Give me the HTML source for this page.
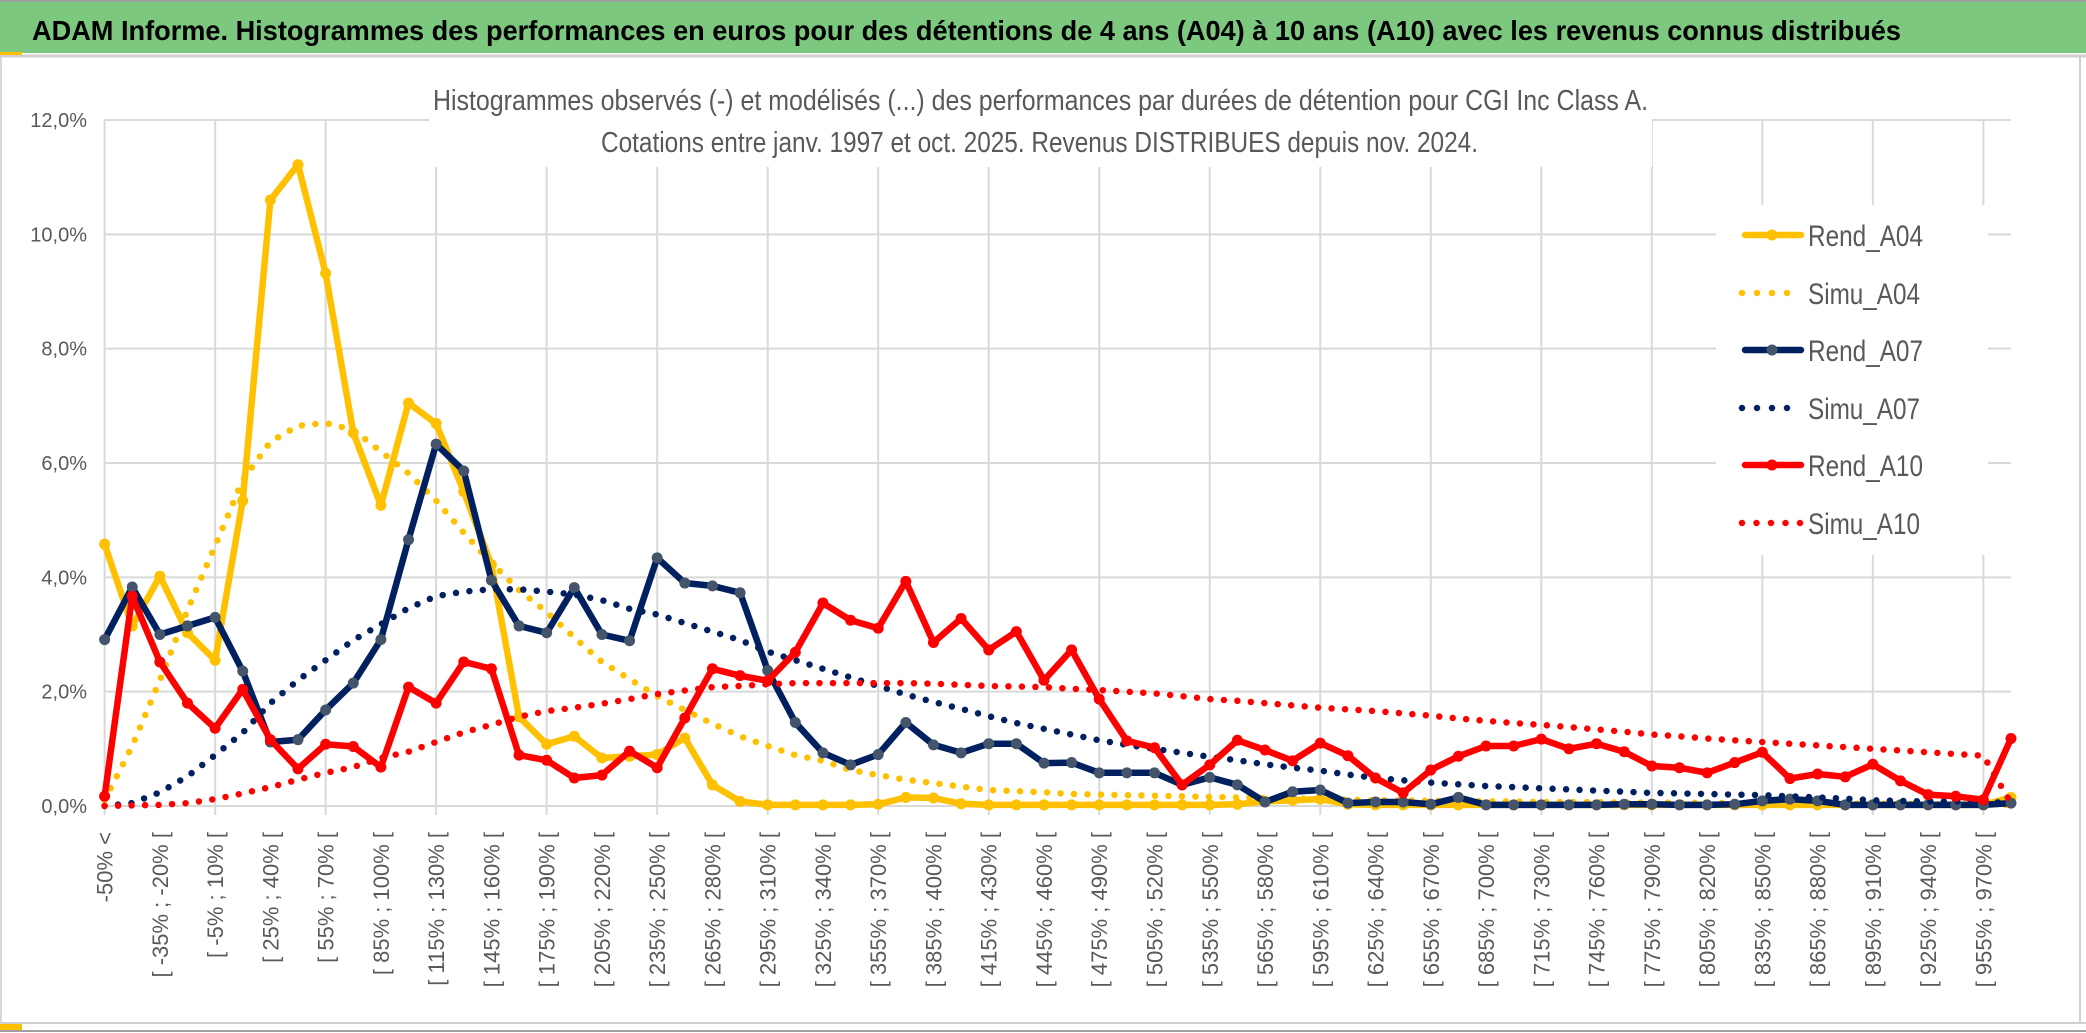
<!DOCTYPE html>
<html><head><meta charset="utf-8">
<style>
html,body{margin:0;padding:0;background:#fff;}
body{width:2086px;height:1033px;overflow:hidden;}
svg{display:block;font-family:"Liberation Sans",sans-serif;}
</style></head>
<body>
<svg id="chart" width="2086" height="1033" viewBox="0 0 2086 1033" xmlns="http://www.w3.org/2000/svg">
  <rect x="0" y="0" width="2086" height="1033" fill="#fff"/>
  <rect x="0" y="2" width="2086" height="51" fill="#7dc87f"/>
  <line x1="0" y1="1" x2="2086" y2="1" stroke="#a0a0a0" stroke-width="2"/>
  <line x1="0" y1="56" x2="2086" y2="56" stroke="#d0d0d0" stroke-width="3"/>
  <rect x="0" y="52" width="22" height="3" fill="#ffc000"/>
  <text x="32" y="40" font-size="28" font-weight="bold" fill="#000" textLength="1869" lengthAdjust="spacingAndGlyphs">ADAM Informe. Histogrammes des performances en euros pour des détentions de 4 ans (A04) à 10 ans (A10) avec les revenus connus distribués</text>
  <line x1="1" y1="57" x2="1" y2="1023" stroke="#d9d9d9" stroke-width="2"/>
  <line x1="2080" y1="57" x2="2080" y2="1023" stroke="#d0d0d0" stroke-width="2"/>
  <line x1="0" y1="1023" x2="2086" y2="1023" stroke="#d0d0d0" stroke-width="2"/>
  <line x1="0" y1="1031" x2="2086" y2="1031" stroke="#a0a0a0" stroke-width="2"/>
  <rect x="0" y="1024" width="22" height="6" fill="#ffc000"/>
  <g id="grid"></g>
  <g id="series"></g>
  <rect x="429" y="70" width="1223" height="97" fill="#fff"/>
  <text x="433" y="110" font-size="29" fill="#595959" textLength="1215" lengthAdjust="spacingAndGlyphs">Histogrammes observés (-) et modélisés (...) des performances par durées de détention pour CGI Inc Class A.</text>
  <text x="601" y="152" font-size="29" fill="#595959" textLength="877" lengthAdjust="spacingAndGlyphs">Cotations entre janv. 1997 et oct. 2025. Revenus DISTRIBUES depuis nov. 2024.</text>
  <g id="legend"></g>
</svg>
<script>
const categories = [];
categories.push("-50% <");
for (let k = 0; k < 69; k++) { const lo = -50 + 15 * k; categories.push("[ " + lo + "% ; " + (lo + 15) + "% ["); }
const yTicks = [0, 2, 4, 6, 8, 10, 12];
const yTickLabels = ["0,0%", "2,0%", "4,0%", "6,0%", "8,0%", "10,0%", "12,0%"];
const seriesNames = ["Rend_A04", "Simu_A04", "Rend_A07", "Simu_A07", "Rend_A10", "Simu_A10"];
const rendA04 = [4.58,3.15,4.02,3.03,2.55,5.34,10.6,11.22,9.32,6.53,5.26,7.05,6.69,5.5,4.22,1.56,1.08,1.22,0.84,0.87,0.9,1.19,0.37,0.08,0.02,0.02,0.02,0.02,0.03,0.15,0.14,0.04,0.02,0.02,0.02,
0.02,0.02,0.02,0.02,0.02,0.02,0.03,0.08,0.1,0.12,0.03,0.02,0.02,0.02,0.02,
0.02,0.02,0.02,0.02,0.02,0.02,0.02,0.02,0.02,0.02,
0.02,0.02,0.02,0.02,0.02,0.02,0.02,0.02,0.02,0.15];
const simuA04 = [0.1,1.05,2.2,3.43,4.55,5.7,6.37,6.65,6.7,6.58,6.2,5.82,5.34,4.78,4.25,3.78,3.39,2.95,
2.52,2.22,1.92,1.68,1.44,1.22,1.05,0.89,0.79,0.63,0.54,0.46,0.4,0.34,0.28,0.26,0.24,
0.21,0.2,0.19,0.18,0.17,0.16,0.15,0.14,0.13,0.12,0.11,0.1,0.1,0.09,0.09,
0.08,0.08,0.07,0.07,0.07,0.06,0.06,0.06,0.05,0.05,0.05,0.05,0.04,0.04,0.04,0.04,0.03,0.03,0.03,0.02];
const rendA07 = [2.91,3.83,3.0,3.15,3.3,2.36,1.12,1.16,1.68,2.15,2.91,4.66,6.33,5.86,3.95,3.15,3.03,
3.82,3.0,2.89,4.34,3.9,3.85,3.73,2.37,1.46,0.93,0.72,0.9,1.46,1.07,0.93,1.09,1.09,0.75,
0.76,0.58,0.58,0.58,0.37,0.5,0.37,0.07,0.25,0.28,0.05,0.07,0.07,0.03,0.15,0.02,0.02,
0.02,0.02,0.02,0.03,0.03,0.02,0.02,0.03,0.09,0.12,0.09,0.02,0.02,0.02,0.02,0.02,0.02,0.05];
const simuA07 = [0.0,0.05,0.24,0.52,0.89,1.28,1.8,2.2,2.55,2.9,3.18,3.46,3.67,3.75,3.79,3.79,3.75,
3.7,3.6,3.45,3.35,3.2,3.05,2.9,2.7,2.55,2.4,2.25,2.1,1.95,1.82,1.7,1.57,1.45,1.35,
1.25,1.15,1.07,1.0,0.93,0.86,0.8,0.73,0.67,0.62,0.55,0.49,0.45,0.41,0.38,0.35,0.33,
0.31,0.29,0.27,0.25,0.23,0.22,0.21,0.2,0.19,0.17,0.15,0.13,0.1,0.09,0.08,0.08,0.07,0.06];
const rendA10 = [0.17,3.67,2.52,1.8,1.36,2.04,1.16,0.65,1.08,1.04,0.68,2.08,1.8,2.52,2.4,0.89,0.8,
0.49,0.54,0.96,0.67,1.54,2.4,2.28,2.19,2.69,3.55,3.25,3.11,3.93,2.86,3.28,2.73,3.05,2.2,
2.73,1.87,1.14,1.02,0.37,0.72,1.15,0.98,0.79,1.1,0.88,0.49,0.23,0.63,0.87,1.05,1.05,1.17,
1.0,1.09,0.95,0.7,0.67,0.58,0.76,0.94,0.48,0.56,0.51,0.73,0.44,0.2,0.17,0.11,1.18];
const simuA10 = [0,0.01,0.02,0.05,0.12,0.22,0.33,0.46,0.58,0.68,0.84,0.95,1.12,1.29,1.42,1.56,1.66,1.72,
1.79,1.87,1.96,2.02,2.08,2.1,2.13,2.15,2.15,2.15,2.15,2.15,2.14,2.12,2.1,2.09,2.08,
2.05,2.03,2.0,1.97,1.92,1.87,1.84,1.8,1.76,1.72,1.69,1.66,1.62,1.58,1.53,1.49,1.45,1.42,
1.38,1.34,1.3,1.25,1.22,1.18,1.15,1.12,1.09,1.06,1.03,1.0,0.97,0.94,0.91,0.88,0.05];

const NS = "http://www.w3.org/2000/svg";
const X0 = 104.6, X1 = 2011, Y0 = 806, YTOP = 120, YMAX = 12;
function xPos(i) { return X0 + (X1 - X0) * i / (categories.length - 1); }
function yPos(v) { return Y0 - (Y0 - YTOP) * v / YMAX; }
function mk(tag, attrs, parent) { const e = document.createElementNS(NS, tag); for (const k in attrs) e.setAttribute(k, attrs[k]); parent.appendChild(e); return e; }

const grid = document.getElementById("grid");
yTicks.forEach((t, j) => {
  const l = mk("line", {x1: X0, x2: X1, y1: yPos(t), y2: yPos(t), stroke: "#d9d9d9", "stroke-width": 2}, grid);
  
  
  const tx = mk("text", {x: 87, y: yPos(t) + 7, "text-anchor": "end", "font-size": 20, fill: "#595959"}, grid);
  
  
  tx.textContent = yTickLabels[j];
});
categories.forEach((c, i) => {
  if (i % 4 === 0) {
    const l = mk("line", {x1: xPos(i), x2: xPos(i), y1: YTOP, y2: Y0 + 9, stroke: "#d9d9d9", "stroke-width": 2}, grid);
    
    
  }
  if (i % 2 === 0) {
    const x = xPos(i) + 8, y = 832;
    const tx = mk("text", {x: x, y: y, "text-anchor": "end", "font-size": 22, fill: "#595959", transform: "rotate(-90 " + x + " " + y + ")"}, grid);
    
    
    tx.textContent = c;
  }
});

const seriesData = [rendA04, simuA04, rendA07, simuA07, rendA10, simuA10];
const colors = ["#ffc000", "#ffc000", "#002060", "#002060", "#ff0000", "#ff0000"];
const markerFill = ["#ffc000", null, "#44546a", null, "#ff0000", null];
const sg = document.getElementById("series");
seriesData.forEach((vals, s) => {
  const g = mk("g", {}, sg);
  
  
  const pts = vals.map((v, i) => xPos(i).toFixed(1) + "," + yPos(v).toFixed(1)).join(" ");
  const dotted = s % 2 === 1;
  const pl = mk("polyline", {points: pts, fill: "none", stroke: colors[s], "stroke-width": dotted ? 6.5 : 6.5, "stroke-linejoin": "round", "stroke-linecap": "round"}, g);
  if (dotted) pl.setAttribute("stroke-dasharray", "0 13.5");
  
  
  if (!dotted) {
    vals.forEach((v, i) => {
      const c = mk("circle", {cx: xPos(i), cy: yPos(v), r: 5.5, fill: markerFill[s]}, g);
      
      
    });
  }
});

const lg = document.getElementById("legend");
const bg = mk("rect", {x: 1716, y: 205, width: 272, height: 350, fill: "#fff"}, lg);


const legendY = [235, 293, 350, 408, 465, 523];
const legendW = [115, 112, 115, 112, 115, 112];
seriesNames.forEach((n, s) => {
  const y = legendY[s];
  const g = mk("g", {}, lg);
  
  
  if (s % 2 === 0) {
    mk("line", {x1: 1745, x2: 1801, y1: y, y2: y, stroke: colors[s], "stroke-width": 6.5, "stroke-linecap": "round"}, g);
    mk("circle", {cx: 1772, cy: y, r: 5.5, fill: markerFill[s]}, g);
  } else {
    const end = s === 5 ? 1801 : 1788;
    const ln = mk("line", {x1: 1742, x2: end, y1: y, y2: y, stroke: colors[s], "stroke-width": 6.5, "stroke-linecap": "round", "stroke-dasharray": "0 " + (s === 5 ? 14.5 : 15)}, g);
  }
  const t = mk("text", {x: 1808, y: y + 11, "font-size": 30, fill: "#595959", textLength: legendW[s], lengthAdjust: "spacingAndGlyphs"}, g);
  t.textContent = n;
});
</script>
</body></html>
